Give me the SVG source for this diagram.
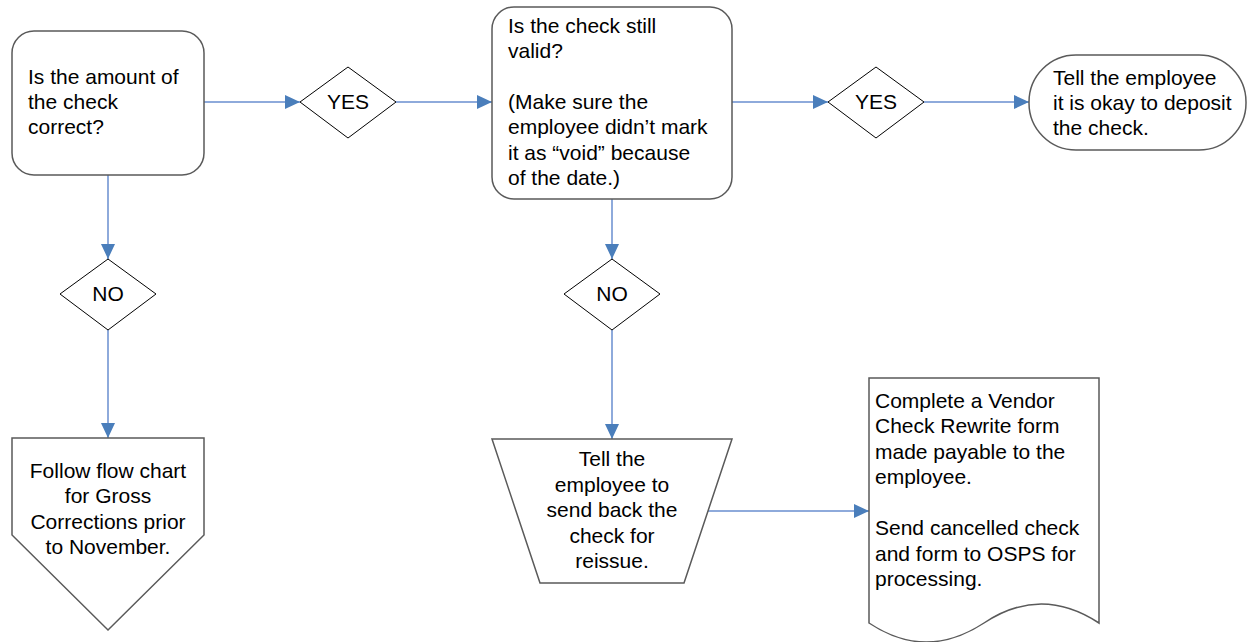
<svg xmlns="http://www.w3.org/2000/svg" width="1247" height="642" viewBox="0 0 1247 642">
<style>
.box{fill:#fff;stroke:#5a5a5a;stroke-width:1.5}
.dia{fill:#fff;stroke:#000;stroke-width:1}
.t{font-family:"Liberation Sans",Arial,sans-serif;font-size:21px;fill:#000}
.c{text-anchor:middle}
.conn{fill:none;stroke:#8eaadb;stroke-width:2}
</style>
<defs>
<marker id="arr" markerUnits="userSpaceOnUse" markerWidth="16" markerHeight="14" refX="15" refY="7" orient="auto">
<path d="M0,0 L15,7 L0,14 Z" fill="#4a7ebb"/>
</marker>
</defs>
<g id="connectors">
<line class="conn" x1="204" y1="102" x2="300" y2="102" marker-end="url(#arr)"/>
<line class="conn" x1="396" y1="102" x2="492" y2="102" marker-end="url(#arr)"/>
<line class="conn" x1="732" y1="102" x2="828" y2="102" marker-end="url(#arr)"/>
<line class="conn" x1="924" y1="102" x2="1029" y2="102" marker-end="url(#arr)"/>
<line class="conn" x1="108" y1="175" x2="108" y2="259" marker-end="url(#arr)"/>
<line class="conn" x1="108" y1="330" x2="108" y2="438" marker-end="url(#arr)"/>
<line class="conn" x1="612" y1="199" x2="612" y2="259" marker-end="url(#arr)"/>
<line class="conn" x1="612" y1="330" x2="612" y2="439" marker-end="url(#arr)"/>
<line class="conn" x1="708" y1="511" x2="869" y2="511" marker-end="url(#arr)"/>
</g>
<g id="q1">
<rect class="box" x="12" y="31" width="192" height="144" rx="22"/>
<text class="t" x="28" y="84">Is the amount of</text>
<text class="t" x="28" y="109">the check</text>
<text class="t" x="28" y="134">correct?</text>
</g>
<g id="yes1">
<polygon class="dia" points="300,102 348,67 396,102 348,138"/>
<text class="t c" x="348" y="109">YES</text>
</g>
<g id="q2">
<rect class="box" x="492" y="7" width="240" height="192" rx="22"/>
<text class="t" x="508" y="33">Is the check still</text>
<text class="t" x="508" y="58">valid?</text>
<text class="t" x="508" y="109">(Make sure the</text>
<text class="t" x="508" y="134">employee didn’t mark</text>
<text class="t" x="508" y="160">it as “void” because</text>
<text class="t" x="508" y="185">of the date.)</text>
</g>
<g id="yes2">
<polygon class="dia" points="828,102 876,67 924,102 876,138"/>
<text class="t c" x="876" y="109">YES</text>
</g>
<g id="end">
<rect class="box" x="1029" y="55" width="217" height="95" rx="47" ry="47"/>
<text class="t" x="1053" y="85">Tell the employee</text>
<text class="t" x="1053" y="110">it is okay to deposit</text>
<text class="t" x="1053" y="135">the check.</text>
</g>
<g id="no1">
<polygon class="dia" points="60,294 108,259 156,294 108,330"/>
<text class="t c" x="108" y="301">NO</text>
</g>
<g id="offpage">
<polygon class="box" points="12,438 204,438 204,535 108,630 12,535"/>
<text class="t c" x="108" y="478">Follow flow chart</text>
<text class="t c" x="108" y="503">for Gross</text>
<text class="t c" x="108" y="529">Corrections prior</text>
<text class="t c" x="108" y="554">to November.</text>
</g>
<g id="no2">
<polygon class="dia" points="564,294 612,259 660,294 612,330"/>
<text class="t c" x="612" y="301">NO</text>
</g>
<g id="manual">
<polygon class="box" points="492,439 732,439 684,583 540,583"/>
<text class="t c" x="612" y="466">Tell the</text>
<text class="t c" x="612" y="492">employee to</text>
<text class="t c" x="612" y="517">send back the</text>
<text class="t c" x="612" y="543">check for</text>
<text class="t c" x="612" y="568">reissue.</text>
</g>
<g id="doc">
<path class="box" d="M869,378 L1099,378 L1099,623 Q1041,585 984,623 Q926,661 869,623 Z"/>
<text class="t" x="875" y="408">Complete a Vendor</text>
<text class="t" x="875" y="433">Check Rewrite form</text>
<text class="t" x="875" y="459">made payable to the</text>
<text class="t" x="875" y="484">employee.</text>
<text class="t" x="875" y="535">Send cancelled check</text>
<text class="t" x="875" y="561">and form to OSPS for</text>
<text class="t" x="875" y="586">processing.</text>
</g>
</svg>
